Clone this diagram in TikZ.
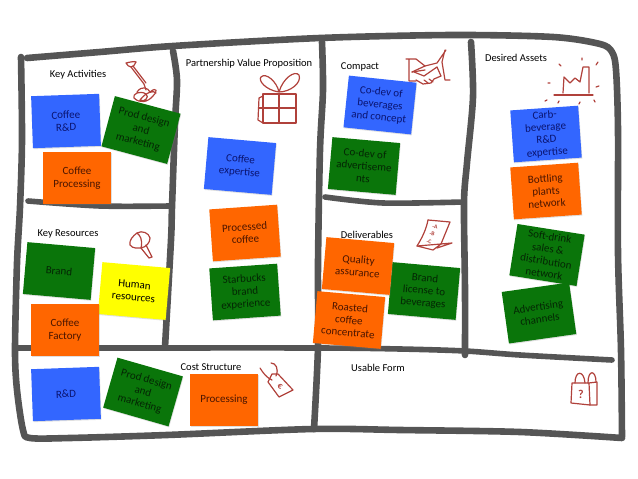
\documentclass[tikz,border=0pt]{standalone}
\usepackage{fontspec}
\setmainfont{Carlito}
\usetikzlibrary{shadows}
\definecolor{gridgray}{HTML}{555555}
\definecolor{sblue}{HTML}{3366FF}
\definecolor{sgreen}{HTML}{0A750A}
\definecolor{sorange}{HTML}{FF6600}
\definecolor{syellow}{HTML}{FFFF00}
\definecolor{iconred}{HTML}{B0413B}
\tikzset{
  gridline/.style={draw=gridgray,line width=6.6pt,line cap=round,line join=round},
  gridthin/.style={draw=gridgray,line width=5.6pt,line cap=round,line join=round},
  sticky/.style={minimum width=68pt,minimum height=52pt,inner sep=1pt,align=center,
     font=\fontsize{11}{12.5}\selectfont,
     drop shadow={shadow xshift=0.6pt,shadow yshift=-1pt,opacity=0.25}},
  blue note/.style={sticky,fill=sblue,text=blue note text},
  green note/.style={sticky,fill=sgreen,text=green note text},
  orange note/.style={sticky,fill=sorange,text=orange note text},
  yellow note/.style={sticky,fill=syellow,text=black},
  heading/.style={font=\fontsize{10.5}{12}\selectfont,text=black,inner sep=0pt},
  icon/.style={draw=iconred,line width=1.2pt,line cap=round,line join=round},
}
\definecolor{blue note text}{HTML}{0A1470}
\definecolor{green note text}{HTML}{042604}
\definecolor{orange note text}{HTML}{4A1500}
\begin{document}
\begin{tikzpicture}[x=1pt,y=-1pt]
\useasboundingbox (0,0) rectangle (638,479);
% ---- hand-drawn grid
\draw[gridline] plot[smooth,tension=0.5] coordinates {(27,58) (100,52) (173,46) (320,38) (453,35) (553,37) (600,44) (612,52) (616,70) (618,130) (618,253) (621,350) (622,437)};
\draw[gridline] plot[smooth,tension=0.5] coordinates {(622,438) (520,432) (400,430) (313,429) (167,435) (70,438) (30,438) (23,430) (17,390) (15,350) (17,263) (20,207) (22,140) (21,57)};
\draw[gridline] plot[smooth,tension=0.5] coordinates {(173,51) (177,80) (175,123) (172,207) (171,240) (165,347)};
\draw[gridline] plot[smooth,tension=0.5] coordinates {(322,42) (323,90) (320,150) (318,263) (318,347) (314,429)};
\draw[gridline] plot[smooth,tension=0.5] coordinates {(471,42) (473,97) (467,163) (464,203) (465,290) (465,355)};
\draw[gridthin] plot[smooth,tension=0.5] coordinates {(17,348) (100,348) (318,348) (400,349) (465,351) (520,355) (612,360)};
\draw[gridthin] plot[smooth,tension=0.5] coordinates {(28,201) (100,206) (170,206)};
\draw[gridthin] plot[smooth,tension=0.5] coordinates {(325,197) (383,203) (463,202)};
% ---- headings
\node[heading] (hKA) at (78,75) {Key Activities};
\node[heading] (hPV) at (249,63.5) {Partnership Value Proposition};
\node[heading] (hCO) at (360,67) {Compact};
\node[heading] (hDA) at (516,58) {Desired Assets};
\node[heading] (hKR) at (68,233.5) {Key Resources};
\node[heading] (hDE) at (367,234.5) {Deliverables};
\node[heading] (hCS) at (211,367.5) {Cost Structure};
\node[heading] (hUF) at (378,367.5) {Usable Form};
% ---- icons
% shovel
\draw[icon] (126,63) .. controls (130,62) and (135,61) .. (136,62) .. controls (135,65) and (133,67) .. (131,67) .. controls (129,67) and (127,65) .. (126,63) -- cycle;
\draw[icon] (131,67) -- (144,84) (133,66) -- (146,83);
\draw[icon] (144,84) -- (146,90);
\draw[icon] (137,92) .. controls (142,85) and (148,88) .. (150,92) .. controls (157,86) and (158,92) .. (153,96) .. controls (148,102) and (140,104) .. (134,98) .. controls (132,94) and (140,90) .. (146,94) .. controls (150,97) and (144,103) .. (140,100) .. controls (146,92) and (154,90) .. (156,93);
% gift
\draw[icon] (263,94) rectangle (296,123);
\draw[icon] (263,96) -- (259,98) -- (258,120) -- (263,123);
\draw[icon] (259,108) -- (296,108) (279,94) -- (279,123);
\draw[icon] (279,92) .. controls (265,90) and (258,80) .. (261,77) .. controls (266,72) and (277,82) .. (279,92) .. controls (283,78) and (295,70) .. (299,75) .. controls (302,83) and (290,92) .. (279,92);
% handshake
\draw[icon] (406,59) -- (416,59) -- (425,66) -- (412,72) (409,60) -- (409,81) -- (416,81);
\draw[icon] (425,66) -- (437,63) -- (446,50) (445,50) -- (442,62) -- (445,80) -- (450,80);
\draw[icon] (414,72) -- (424,76) -- (437,67) -- (441,76) -- (434,79) -- (431,83) -- (423,84) -- (416,80);
\draw[icon] (424,80) -- (428,83) (429,79) -- (433,82) (412,72) -- (425,70);
% factory
\draw[icon] (554,95) -- (593,95);
\draw[icon] (563,93) -- (564,77) -- (570,83) -- (575,78) -- (580,82) -- (583,67) -- (589,67) -- (589,93);
\draw[icon] (548,83) -- (550,83) (559,64) -- (561,66) (582,58) -- (582,60) (598,62) -- (596,65) (599,86) -- (596,87) (595,102) -- (594,100) (579,104) -- (580,102) (558,103) -- (559,101) (545,101) -- (547,100);
% hammer
\draw[icon] (137,233) .. controls (133,236) and (129,240) .. (130,245) .. controls (133,249) and (138,248) .. (141,248) .. controls (146,247) and (150,243) .. (150,238) .. controls (149,233) and (142,230) .. (137,233) -- cycle;
\draw[icon] (137,233) .. controls (140,235) and (143,240) .. (141,248);
\draw[icon] (141,248) -- (149,258) -- (152,257) -- (146,245);
% paper A B C
\draw[icon] (428,220) -- (450,222) -- (441,244) -- (417,246) -- (433,250) -- (441,244) -- (452,243) -- (437,248);
\draw[icon] (428,220) .. controls (426,230) and (422,238) .. (417,246);
\node[text=iconred,font=\bfseries\fontsize{5.8}{6}\selectfont,rotate=-8,inner sep=0pt] (pA) at (435,226.5) {-A};
\node[text=iconred,font=\bfseries\fontsize{5.8}{6}\selectfont,rotate=-8,inner sep=0pt] (pB) at (432,234) {-B};
\node[text=iconred,font=\bfseries\fontsize{5.8}{6}\selectfont,rotate=-8,inner sep=0pt] (pC) at (429,241.5) {-C};
% price tag
\draw[icon] (272,374) -- (278,374) -- (293,390) -- (279,397) -- (268,382) -- cycle;
\draw[icon] (260,368) .. controls (263,373) and (267,378) .. (272,380);
\draw[icon] (271,363) .. controls (276,363) and (279,369) .. (276,376);
\node[text=iconred,font=\bfseries\fontsize{9}{9}\selectfont,rotate=-30,inner sep=0pt] (tagE) at (280,387) {€};
% bag
\draw[icon] (572,383) -- (589,383) -- (590,405) -- (571,403) -- cycle;
\draw[icon] (589,383) -- (597,382) -- (597,405) -- (590,405);
\draw[icon] (575,383) .. controls (575,370) and (584,370) .. (585,383);
\draw[icon] (588,383) .. controls (588,369) and (596,370) .. (596,382);
\node[text=iconred,font=\bfseries\fontsize{12}{12}\selectfont,inner sep=0pt] (bagQ) at (581,394) {?};
% ---- sticky notes
\node[blue note,rotate=2] (n1) at (66,121) {Coffee\\R\&D};
\node[green note,rotate=-15] (n2) at (141,130) {Prod design\\and\\marketing};
\node[orange note] (n3) at (77,178) {Coffee\\Processing};
\node[blue note,rotate=-5] (n4) at (240,166) {Coffee\\expertise};
\node[orange note,rotate=4] (n5) at (245,233) {Processed\\coffee};
\node[green note,rotate=4] (n6) at (245,292) {Starbucks\\brand\\experience};
\node[green note,rotate=-5] (n7) at (59,271) {Brand};
\node[yellow note,rotate=-5] (n8) at (134,291) {Human\\resources};
\node[orange note] (n9) at (65,330) {Coffee\\Factory};
\node[blue note,rotate=2] (n10) at (66,394) {R\&D};
\node[green note,rotate=-16] (n11) at (143,392) {Prod design\\and\\marketing};
\node[orange note] (n12) at (224,400) {Processing};
\node[blue note,rotate=-6] (n13) at (380,105) {Co-dev of\\beverages\\and concept};
\node[green note,rotate=-5] (n14) at (364,166) {Co-dev of\\advertiseme\\nts};
\node[blue note,rotate=4] (n15) at (546,134) {Carb-\\beverage\\R\&D\\expertise};
\node[orange note,rotate=4] (n16) at (546,191) {Bottling\\plants\\network};
\node[green note,rotate=-9] (n17) at (547,255) {Soft-drink\\sales \&\\distribution\\network};
\node[green note,rotate=8] (n18) at (539,313) {Advertising\\channels};
\node[green note,rotate=-5] (n19) at (424,291) {Brand\\license to\\beverages};
\node[orange note,rotate=-5] (n20) at (358,266) {Quality\\assurance};
\node[orange note,rotate=-5] (n21) at (349,320) {Roasted\\coffee\\concentrate};
\end{tikzpicture}
\end{document}
